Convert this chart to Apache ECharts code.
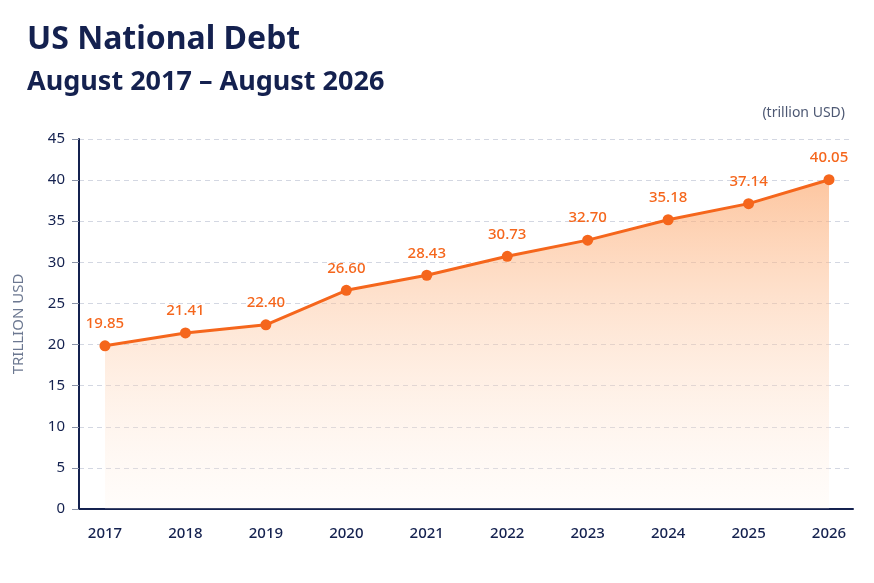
<!DOCTYPE html>
<html>
<head>
<meta charset="utf-8">
<script src="https://cdn.jsdelivr.net/npm/echarts@6/dist/echarts.min.js"></script>
<style>
  html, body { margin: 0; padding: 0; background: #fff; }
  #main { width: 874px; height: 583px; }
</style>
</head>
<body>
<div id="main"></div>
<script>
var years = ['2017', '2018', '2019', '2020', '2021', '2022', '2023', '2024', '2025', '2026'];
var debt = [19.85, 21.41, 22.40, 26.60, 28.43, 30.73, 32.70, 35.18, 37.14, 40.05];
var yTicks = [0, 5, 10, 15, 20, 25, 30, 35, 40, 45];

var navy = '#14214f';
var orange = '#f5661c';

var myChart = echarts.init(document.getElementById('main'));

var points = years.map(function (y, i) { return [Number(y), debt[i]]; });

var option = {
    backgroundColor: '#fff',
    textStyle: { fontFamily: 'Noto Sans' },
    title: [
        {
            text: 'US National Debt',
            left: 22, top: 19,
            textStyle: { color: navy, fontSize: 32, fontWeight: 'bold', fontFamily: 'Noto Sans' }
        },
        {
            text: 'August 2017 – August 2026',
            left: 22, top: 64,
            textStyle: { color: navy, fontSize: 27, fontWeight: 'bold', fontFamily: 'Noto Sans' }
        },
        {
            text: '(trillion USD)',
            right: 24, top: 101,
            textStyle: { color: '#4d5873', fontSize: 14, fontWeight: 'normal', fontFamily: 'Noto Sans' }
        }
    ],
    grid: {
        left: 79,
        right: 21,
        top: 139,
        bottom: 74
    },
    xAxis: {
        type: 'value',
        min: 2016.677,
        max: 2026.298,
        splitNumber: 10,
        axisLine: { show: true, lineStyle: { color: navy, width: 2 } },
        axisTick: { show: false },
        splitLine: { show: false },
        axisLabel: {
            color: navy,
            fontSize: 15,
            fontWeight: 500,
            margin: 17,
            showMinLabel: false,
            showMaxLabel: false,
            formatter: function (v) {
                var s = String(Math.round(v));
                return (Math.abs(v - Math.round(v)) < 1e-6 && years.indexOf(s) >= 0) ? s : '';
            }
        }
    },
    yAxis: {
        type: 'value',
        min: yTicks[0],
        max: yTicks[yTicks.length - 1],
        interval: 5,
        name: 'TRILLION USD',
        nameLocation: 'middle',
        nameGap: 53,
        nameTextStyle: { color: '#6c7891', fontSize: 15, letterSpacing: 1 },
        axisLine: { show: true, lineStyle: { color: navy, width: 2 } },
        axisTick: { show: true, length: 7, lineStyle: { color: '#8a93a8' } },
        axisLabel: { color: navy, fontSize: 15, margin: 14 },
        splitLine: { lineStyle: { color: '#d3d7e2', type: [5, 4] } }
    },
    series: [
        {
            name: 'US National Debt',
            type: 'line',
            data: points,
            symbol: 'circle',
            symbolSize: 11,
            itemStyle: { color: orange },
            lineStyle: { color: orange, width: 3 },
            label: {
                show: true,
                position: 'top',
                distance: 9,
                color: orange,
                fontSize: 15,
                fontWeight: 500,
                formatter: function (p) { return p.value[1].toFixed(2); }
            },
            areaStyle: {
                color: new echarts.graphic.LinearGradient(0, 0, 0, 1, [
                    { offset: 0, color: 'rgba(252, 165, 105, 0.9)' },
                    { offset: 1, color: 'rgba(255, 240, 228, 0.25)' }
                ])
            }
        }
    ]
};

myChart.setOption(option);
</script>
</body>
</html>
